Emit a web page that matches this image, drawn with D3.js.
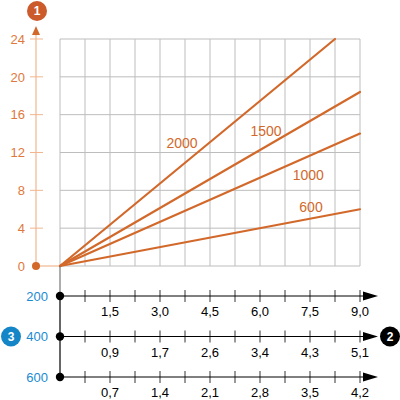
<!DOCTYPE html>
<html>
<head>
<meta charset="utf-8">
<script src="https://cdn.jsdelivr.net/npm/d3@7"></script>
<style>
  body { margin: 0; background: #fff; }
  text { font-family: "Liberation Sans", Arial, Helvetica, sans-serif; }
</style>
</head>
<body>
<div id="chart"></div>
<script>
// line labels (speed) and their end points
var series = ["2000", "1500", "1000", "600"];
var xEnd = [8.25, 9.0, 9.0, 9.0];
var yEnd = [24, 18.4, 14, 6];
// where each label sits (data units)
var labelX = [3.66, 6.18, 7.45, 7.53];
var labelY = [12.5, 13.75, 9.1, 5.7];

var yTicks = [0, 4, 8, 12, 16, 20, 24];
var rowNames = ["200", "400", "600"];
var rowTickLabels = [
    ["1,5", "3,0", "4,5", "6,0", "7,5", "9,0"],
    ["0,9", "1,7", "2,6", "3,4", "4,3", "5,1"],
    ["0,7", "1,4", "2,1", "2,8", "3,5", "4,2"]
];

var svgWidth = 400;
var svgHeight = 400;

var orange = "#d2692b";
var orangeText = "#e0783c";
var orangeLight = "#f1b68e";
var blue = "#1a8bd2";

var svg = d3.select("#chart")
    .append("svg")
    .attr("width", svgWidth)
    .attr("height", svgHeight);

var xScale = d3.scaleLinear().domain([0, 9]).range([60, 360]);
var yScale = d3.scaleLinear().domain([0, 24]).range([266, 39]);
// tick index scale for the bottom rows (12 steps)
var stepScale = d3.scaleLinear().domain([0, 12]).range([60, 360]);
var rowY = d3.scalePoint().domain(rowNames).range([296, 377]);

// grid
var grid = svg.append("g");
grid.selectAll("line.v")
    .data(d3.range(0, 13))
    .enter().append("line")
    .attr("x1", d => stepScale(d)).attr("x2", d => stepScale(d))
    .attr("y1", yScale(24)).attr("y2", yScale(0))
    .attr("stroke", "#bdbdbd").attr("stroke-width", 1);
grid.selectAll("line.h")
    .data(yTicks)
    .enter().append("line")
    .attr("x1", xScale(0)).attr("x2", xScale(9))
    .attr("y1", d => yScale(d)).attr("y2", d => yScale(d))
    .attr("stroke", "#bdbdbd").attr("stroke-width", 1);

// left y axis (orange)
var yAxisX = 36;
svg.append("line")
    .attr("x1", yAxisX).attr("x2", yAxisX)
    .attr("y1", yScale(0)).attr("y2", 30)
    .attr("stroke", orangeLight).attr("stroke-width", 1.2);
svg.append("path")
    .attr("d", `M${yAxisX},26 L${yAxisX - 4},35 L${yAxisX + 4},35 Z`)
    .attr("fill", orange);
svg.append("line")
    .attr("x1", yAxisX).attr("x2", xScale(0))
    .attr("y1", yScale(0)).attr("y2", yScale(0))
    .attr("stroke", orangeLight).attr("stroke-width", 1.2);

var yAxis = svg.append("g");
yAxis.selectAll("line")
    .data(yTicks.filter(d => d > 0))
    .enter().append("line")
    .attr("x1", yAxisX - 6).attr("x2", yAxisX + 7)
    .attr("y1", d => yScale(d)).attr("y2", d => yScale(d))
    .attr("stroke", orangeLight).attr("stroke-width", 1);
yAxis.selectAll("text")
    .data(yTicks)
    .enter().append("text")
    .attr("x", 25)
    .attr("y", d => yScale(d))
    .attr("dy", "0.36em")
    .attr("text-anchor", "end")
    .attr("font-size", "13px")
    .attr("fill", orangeText)
    .text(d => d);
svg.append("circle")
    .attr("cx", yAxisX).attr("cy", yScale(0)).attr("r", 4)
    .attr("fill", orange);

// badge 1
svg.append("circle").attr("cx", 37).attr("cy", 11).attr("r", 10).attr("fill", "#cc5b2c");
svg.append("text").attr("x", 37).attr("y", 11).attr("dy", "0.36em")
    .attr("text-anchor", "middle").attr("font-size", "12px").attr("font-weight", "bold")
    .attr("fill", "#fff").text("1");

// lines
var lineGroup = svg.append("g");
lineGroup.selectAll("line")
    .data(series)
    .enter().append("line")
    .attr("x1", xScale(0)).attr("y1", yScale(0))
    .attr("x2", (d, i) => xScale(xEnd[i]))
    .attr("y2", (d, i) => yScale(yEnd[i]))
    .attr("stroke", orange).attr("stroke-width", 2.2)
    .attr("stroke-linecap", "round");
lineGroup.selectAll("text")
    .data(series)
    .enter().append("text")
    .attr("x", (d, i) => xScale(labelX[i]))
    .attr("y", (d, i) => yScale(labelY[i]))
    .attr("text-anchor", "middle")
    .attr("font-size", "14px")
    .attr("fill", orange)
    .text(d => d);

// vertical connector below the grid
svg.append("line")
    .attr("x1", 60).attr("x2", 60)
    .attr("y1", yScale(0)).attr("y2", rowY("200"))
    .attr("stroke", "#777").attr("stroke-width", 1.2);
svg.append("line")
    .attr("x1", 60).attr("x2", 60)
    .attr("y1", rowY("200")).attr("y2", rowY("600"))
    .attr("stroke", "#000").attr("stroke-width", 1.2);

// bottom rows
rowNames.forEach(function(name, r) {
    var y = rowY(name);
    var row = svg.append("g");
    row.append("line")
        .attr("x1", 60).attr("x2", 366)
        .attr("y1", y).attr("y2", y)
        .attr("stroke", "#000").attr("stroke-width", 1);
    row.append("path")
        .attr("d", `M378,${y} L363,${y - 4.5} L363,${y + 4.5} Z`)
        .attr("fill", "#000");
    row.selectAll("line.tick")
        .data(d3.range(1, 13))
        .enter().append("line")
        .attr("x1", d => stepScale(d)).attr("x2", d => stepScale(d))
        .attr("y1", y - 6).attr("y2", y + 6)
        .attr("stroke", "#000").attr("stroke-width", 0.8);
    row.selectAll("text.lab")
        .data(rowTickLabels[r])
        .enter().append("text")
        .attr("x", (d, i) => stepScale((i + 1) * 2))
        .attr("y", y + 20)
        .attr("text-anchor", "middle")
        .attr("font-size", "13px")
        .attr("fill", "#000")
        .text(d => d);
    row.append("circle").attr("cx", 60).attr("cy", y).attr("r", 4.2).attr("fill", "#000");
    row.append("text")
        .attr("x", 48).attr("y", y).attr("dy", "0.36em")
        .attr("text-anchor", "end")
        .attr("font-size", "13px")
        .attr("fill", blue)
        .text(name);
});

// badges 2 and 3
svg.append("circle").attr("cx", 11).attr("cy", rowY("400")).attr("r", 10).attr("fill", "#1486c8");
svg.append("text").attr("x", 11).attr("y", rowY("400")).attr("dy", "0.36em")
    .attr("text-anchor", "middle").attr("font-size", "12px").attr("font-weight", "bold")
    .attr("fill", "#fff").text("3");
svg.append("circle").attr("cx", 390).attr("cy", rowY("400")).attr("r", 10).attr("fill", "#000");
svg.append("text").attr("x", 390).attr("y", rowY("400")).attr("dy", "0.36em")
    .attr("text-anchor", "middle").attr("font-size", "12px").attr("font-weight", "bold")
    .attr("fill", "#fff").text("2");
</script>
</body>
</html>
